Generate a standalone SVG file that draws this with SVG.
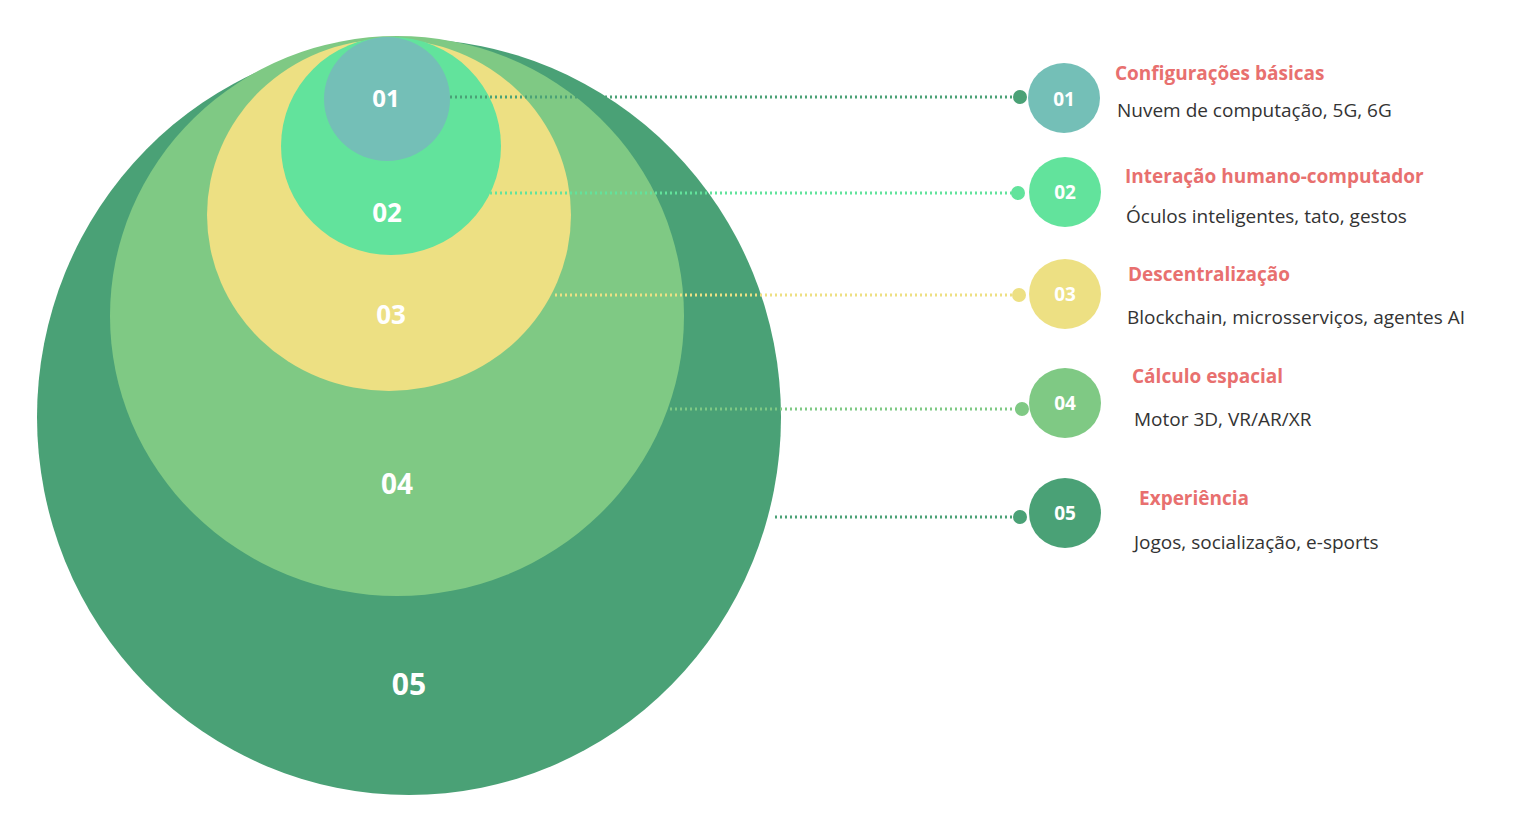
<svg xmlns="http://www.w3.org/2000/svg" width="1537" height="831" viewBox="0 0 1537 831">
<style>
.big{font-family:"Open Sans","Noto Sans",sans-serif;font-weight:bold;fill:#fff;text-anchor:middle}
.sm{font-family:"Open Sans","Noto Sans",sans-serif;font-weight:bold;fill:#fff;text-anchor:middle;font-size:19px}
.t{font-family:"Open Sans","Noto Sans",sans-serif;font-weight:bold;fill:#e8706f;font-size:19px}
.d{font-family:"Open Sans","Noto Sans",sans-serif;fill:#333;font-size:19px}
.ln{stroke-width:3;stroke-dasharray:2 3;fill:none}
</style>
<rect width="1537" height="831" fill="#fff"/>
<g id="n05"><ellipse cx="409" cy="417" rx="372" ry="378" fill="#4aa176"/><text class="big" x="409" y="695" font-size="30">05</text></g>
<g id="n04"><ellipse cx="397" cy="316" rx="287" ry="280" fill="#7fc984"/><text class="big" x="397" y="494" font-size="28">04</text></g>
<g id="n03"><ellipse cx="389" cy="215" rx="182" ry="176" fill="#ede083"/><text class="big" x="391" y="324" font-size="26">03</text></g>
<g id="n02"><ellipse cx="391" cy="146" rx="110" ry="109" fill="#62e39c"/><text class="big" x="387" y="222" font-size="26">02</text></g>
<g id="n01"><ellipse cx="387" cy="99" rx="63" ry="62" fill="#74bfb7"/><text class="big" x="386" y="107" font-size="24">01</text></g>
<g id="connectors">
<line class="ln" x1="450" y1="97" x2="1020" y2="97" stroke="#4aa176"/><circle cx="1020" cy="97" r="7" fill="#4aa176"/>
<line class="ln" x1="490" y1="193" x2="1018" y2="193" stroke="#62e39c"/><circle cx="1018" cy="193" r="7" fill="#62e39c"/>
<line class="ln" x1="555" y1="295" x2="1019" y2="295" stroke="#ede083"/><circle cx="1019" cy="295" r="7" fill="#ede083"/>
<line class="ln" x1="670" y1="409" x2="1022" y2="409" stroke="#7fc984"/><circle cx="1022" cy="409" r="7" fill="#7fc984"/>
<line class="ln" x1="775" y1="517" x2="1020" y2="517" stroke="#4aa176"/><circle cx="1020" cy="517" r="7" fill="#4aa176"/>
</g>
<g id="i01"><ellipse cx="1064" cy="98" rx="36" ry="35" fill="#74bfb7"/><text class="sm" x="1064" y="106" font-size="22">01</text>
<text class="t" x="1115" y="80">Configurações básicas</text><text class="d" x="1117" y="117">Nuvem de computação, 5G, 6G</text></g>
<g id="i02"><ellipse cx="1065" cy="192" rx="36" ry="35" fill="#62e39c"/><text class="sm" x="1065" y="199">02</text>
<text class="t" x="1125" y="183">Interação humano-computador</text><text class="d" x="1126" y="223">Óculos inteligentes, tato, gestos</text></g>
<g id="i03"><ellipse cx="1065" cy="294" rx="36" ry="35" fill="#ede083"/><text class="sm" x="1065" y="301">03</text>
<text class="t" x="1128" y="281">Descentralização</text><text class="d" x="1127" y="324">Blockchain, microsserviços, agentes AI</text></g>
<g id="i04"><ellipse cx="1065" cy="403" rx="36" ry="35" fill="#7fc984"/><text class="sm" x="1065" y="410">04</text>
<text class="t" x="1132" y="383">Cálculo espacial</text><text class="d" x="1134" y="426">Motor 3D, VR/AR/XR</text></g>
<g id="i05"><ellipse cx="1065" cy="513" rx="36" ry="35" fill="#4aa176"/><text class="sm" x="1065" y="520">05</text>
<text class="t" x="1139" y="505">Experiência</text><text class="d" x="1134" y="549">Jogos, socialização, e-sports</text></g>
</svg>
